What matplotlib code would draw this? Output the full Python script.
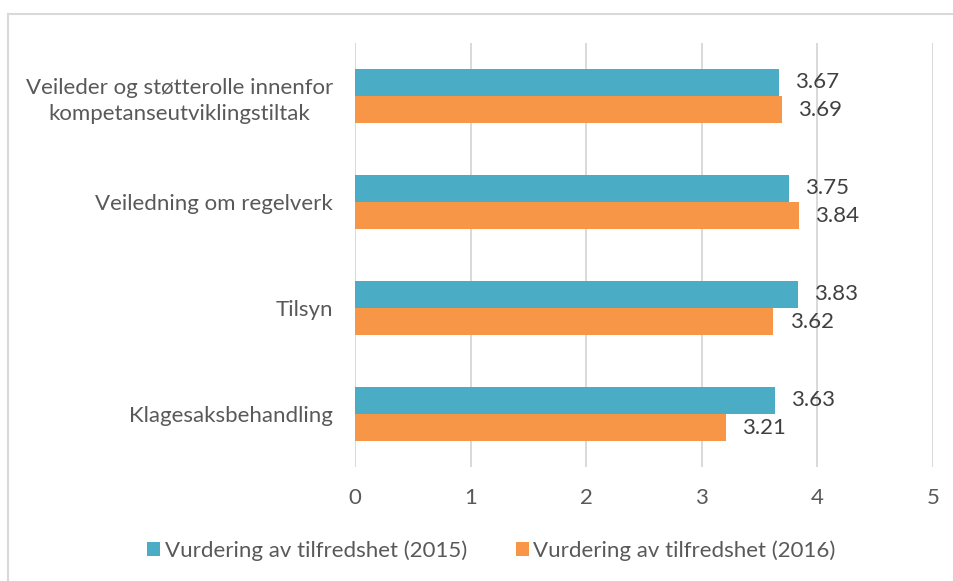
import matplotlib
matplotlib.use("Agg")
import matplotlib.pyplot as plt
import numpy as np
from matplotlib.lines import Line2D
from matplotlib.patches import Patch

plt.rcParams['font.family'] = ['Lato', 'DejaVu Sans']

categories = ["Veileder og støtterolle innenfor\nkompetanseutviklingstiltak",
              "Veiledning om regelverk",
              "Tilsyn",
              "Klagesaksbehandling"]
vals_2015 = [3.67, 3.75, 3.83, 3.63]
vals_2016 = [3.69, 3.84, 3.62, 3.21]
series_names = ["Vurdering av tilfredshet (2015)", "Vurdering av tilfredshet (2016)"]
colors = ["#4BACC6", "#F79646"]
xticks = [0, 1, 2, 3, 4, 5]

fig = plt.figure(figsize=(9.54, 5.81), dpi=100)
ax = fig.add_axes([0.3721, 0.1962, 0.6059, 0.7298])

y = np.arange(len(categories))
h = 0.255
ax.barh(y - h / 2, vals_2015, height=h, color=colors[0], zorder=3)
ax.barh(y + h / 2, vals_2016, height=h, color=colors[1], zorder=3)

for yi, v in zip(y, vals_2015):
    ax.text(v + 0.14, yi - h / 2, f"{v:.2f}", va="center", ha="left",
            fontsize=16, color="#404040")
for yi, v in zip(y, vals_2016):
    ax.text(v + 0.14, yi + h / 2, f"{v:.2f}", va="center", ha="left",
            fontsize=16, color="#404040")

ax.set_xlim(0, 5)
ax.set_ylim(3.5, -0.5)
ax.set_xticks(xticks)
ax.set_yticks(y)
ax.set_yticklabels(categories, fontsize=16, color="#595959", ha="right",
                   multialignment="center", linespacing=1.35)
ax.tick_params(axis="y", length=0, pad=16)
ax.tick_params(axis="x", length=0, labelsize=16, labelcolor="#595959", pad=15)
ax.grid(axis="x", color="#D9D9D9", linewidth=1.4, zorder=0)
for s in ax.spines.values():
    s.set_visible(False)

handles = [Patch(facecolor=c, edgecolor="none") for c in colors]
fig.legend(handles, series_names, loc="center", bbox_to_anchor=(0.515, 0.052),
           ncol=2, frameon=False, fontsize=16, labelcolor="#595959",
           handlelength=0.6, handleheight=0.6, handletextpad=0.2, columnspacing=2.2)

# outer chart border (top and left visible)
fig.add_artist(Line2D([0.0084, 0.0084], [0, 0.976], color="#D9D9D9", linewidth=1.5,
                      transform=fig.transFigure))
fig.add_artist(Line2D([0.0084, 1.0], [0.976, 0.976], color="#D9D9D9", linewidth=1.5,
                      transform=fig.transFigure))

fig.savefig("out.png", dpi=100)
